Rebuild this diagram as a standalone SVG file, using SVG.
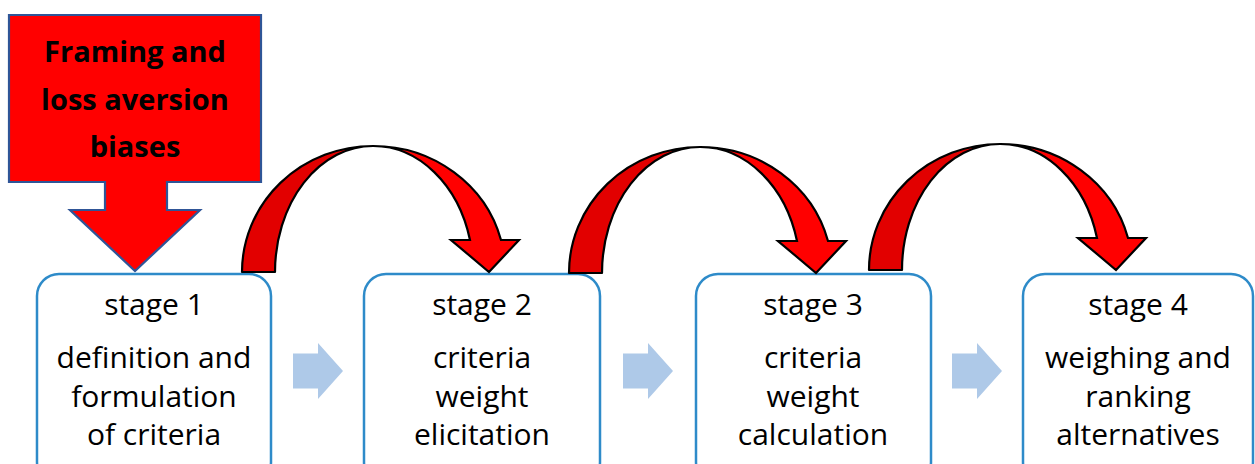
<svg xmlns="http://www.w3.org/2000/svg" xmlns:xlink="http://www.w3.org/1999/xlink" width="1255" height="464" viewBox="0 0 1255 464">
<style>
.box{fill:#fff;stroke:#2E8BC9;stroke-width:2.5}
.t{font-family:"Open Sans","Liberation Sans",sans-serif;font-size:30px;fill:#000;text-anchor:middle}
.b{font-family:"Open Sans","Liberation Sans",sans-serif;font-size:29px;font-weight:bold;fill:#000;text-anchor:middle}
.flow{fill:#AEC9E8}
.bandL{fill:#E20000;stroke:#000;stroke-width:2.2;stroke-linejoin:round}
.bandR{fill:#FF0000;stroke:#000;stroke-width:2.2;stroke-linejoin:miter}
</style>
<defs>
<g id="ca">
<path class="bandL" d="M-131,0 A131,126 0 0 1 0,-126 A98,126 0 0 0 -98,0 Z"/>
<path class="bandR" d="M0,-126 A132,126 0 0 1 128,-32 L146,-32 L116,0 L78,-32 L97,-32 A100,126 0 0 0 0,-126 Z"/>
</g>
<path id="fa" d="M0,-17.5 H25 V-28 L50,0 L25,28 V17.5 H0 Z"/>
</defs>
<g id="bias">
<path d="M9,15 H261 V182 H167 V210 H200 L135,271 L70,210 H105 V182 H9 Z" fill="#FF0000" stroke="#2F5597" stroke-width="2.2"/>
<text class="b" x="135" y="62">Framing and</text>
<text class="b" x="135" y="110">loss aversion</text>
<text class="b" x="135" y="157">biases</text>
</g>
<g id="stage1">
<rect class="box" x="37" y="274" width="234" height="210" rx="22"/>
<text class="t" x="154" y="315">stage 1</text>
<text class="t" x="154" y="368">definition and</text>
<text class="t" x="154" y="407">formulation</text>
<text class="t" x="154" y="445">of criteria</text>
</g>
<g id="stage2">
<rect class="box" x="364" y="274" width="236" height="210" rx="22"/>
<text class="t" x="482" y="315">stage 2</text>
<text class="t" x="482" y="368">criteria</text>
<text class="t" x="482" y="407">weight</text>
<text class="t" x="482" y="445">elicitation</text>
</g>
<g id="stage3">
<rect class="box" x="696" y="274" width="235" height="210" rx="22"/>
<text class="t" x="813" y="315">stage 3</text>
<text class="t" x="813" y="368">criteria</text>
<text class="t" x="813" y="407">weight</text>
<text class="t" x="813" y="445">calculation</text>
</g>
<g id="stage4">
<rect class="box" x="1023" y="274" width="230" height="210" rx="22"/>
<text class="t" x="1138" y="315">stage 4</text>
<text class="t" x="1138" y="368">weighing and</text>
<text class="t" x="1138" y="407">ranking</text>
<text class="t" x="1138" y="445">alternatives</text>
</g>
<g id="connectors">
<use xlink:href="#fa" class="flow" transform="translate(293,371)"/>
<use xlink:href="#fa" class="flow" transform="translate(623,371)"/>
<use xlink:href="#fa" class="flow" transform="translate(952,371)"/>
<use xlink:href="#ca" transform="translate(373,272)"/>
<use xlink:href="#ca" transform="translate(700,273)"/>
<use xlink:href="#ca" transform="translate(1000,270)"/>
</g>
</svg>
